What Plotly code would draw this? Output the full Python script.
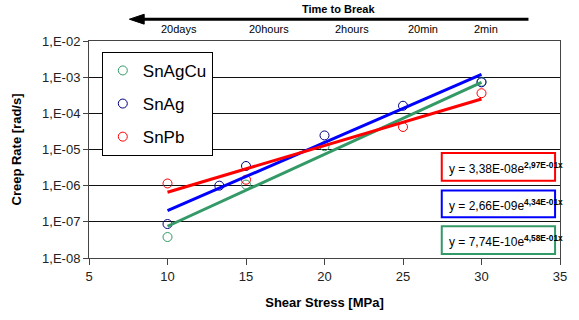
import plotly.graph_objects as go

# ---- data ----
sn_ag_cu_x = [10, 15, 20, 30]
sn_ag_cu_y = [3.8e-8, 1.07e-6, 1.23e-5, 7.5e-4]
sn_ag_x = [10, 13.3, 15, 20, 25, 30]
sn_ag_y = [8.7e-8, 1.0e-6, 3.5e-6, 2.45e-5, 1.62e-4, 7.2e-4]
sn_pb_x = [10, 15, 25, 30]
sn_pb_y = [1.15e-6, 1.46e-6, 4.2e-5, 3.6e-4]

# trendline end points (exponential fits, straight on log axis)
fit_x = [10, 30]
fit_cu_y = [7.55e-8, 7.2e-4]
fit_ag_y = [2.04e-7, 1.2e-3]
fit_pb_y = [6.6e-7, 2.5e-4]

eq_pb = ("3,38E-08", "2,97E-01x")
eq_ag = ("2,66E-09", "4,34E-01x")
eq_cu = ("7,74E-10", "4,58E-01x")

y_tickvals = [1e-8, 1e-7, 1e-6, 1e-5, 1e-4, 1e-3, 1e-2]
y_ticktext = ["1,E-08", "1,E-07", "1,E-06", "1,E-05", "1,E-04", "1,E-03", "1,E-02"]
x_tickvals = [5, 10, 15, 20, 25, 30, 35]

time_labels = ["20days", "20hours", "2hours", "20min", "2min"]
time_label_px = [180, 272, 356, 428, 492]

GREEN = "#339966"
BLUE = "#0000ff"
RED = "#ff0000"

fig = go.Figure()

# markers
fig.add_trace(go.Scatter(x=sn_ag_cu_x, y=sn_ag_cu_y, mode="markers", name="SnAgCu",
                         legendgroup="a",
                         marker=dict(symbol="circle-open", size=9, color=GREEN, line=dict(width=1))))
fig.add_trace(go.Scatter(x=sn_ag_x, y=sn_ag_y, mode="markers", name="SnAg",
                         legendgroup="b",
                         marker=dict(symbol="circle-open", size=9, color="#000080", line=dict(width=1))))
fig.add_trace(go.Scatter(x=sn_pb_x, y=sn_pb_y, mode="markers", name="SnPb",
                         legendgroup="c",
                         marker=dict(symbol="circle-open", size=9, color=RED, line=dict(width=1))))

# trendlines (drawn on top)
for yy, col in [(fit_cu_y, GREEN), (fit_ag_y, BLUE), (fit_pb_y, RED)]:
    fig.add_trace(go.Scatter(x=fit_x, y=yy, mode="lines", showlegend=False, hoverinfo="skip",
                             line=dict(color=col, width=3)))

W, H = 579, 320
L, R, T, B = 89, 12, 41, 60
pw, ph = W - L - R, H - T - B

def px2paper_x(px):
    return (px - L) / pw

def px2paper_y(py):
    return (H - B - py) / ph

annotations = []
shapes = []

# equation boxes
for (c, e), col, y0, y1 in [(eq_pb, RED, 154, 182), (eq_ag, BLUE, 192, 219), (eq_cu, GREEN, 228, 256)]:
    shapes.append(dict(type="rect", xref="paper", yref="paper",
                       x0=px2paper_x(447), x1=px2paper_x(562),
                       y0=px2paper_y(y1), y1=px2paper_y(y0),
                       line=dict(color=col, width=2), fillcolor="white", layer="above"))
    annotations.append(dict(xref="paper", yref="paper", x=px2paper_x(452), y=px2paper_y((y0 + y1) / 2 + 1),
                            xanchor="left", yanchor="middle", showarrow=False,
                            text=f"y = {c}e<sup><b>{e}</b></sup>",
                            font=dict(family="Arial", size=12, color="#000")))

# Time to break arrow (line + head)
shapes.append(dict(type="line", xref="paper", yref="paper",
                   x0=px2paper_x(140), x1=px2paper_x(535), y0=px2paper_y(19), y1=px2paper_y(19),
                   line=dict(color="#000", width=3)))
shapes.append(dict(type="path", xref="paper", yref="paper",
                   path=(f"M {px2paper_x(130)} {px2paper_y(19)} "
                         f"L {px2paper_x(145)} {px2paper_y(14)} "
                         f"L {px2paper_x(145)} {px2paper_y(24)} Z"),
                   fillcolor="#000", line=dict(color="#000", width=1)))
annotations.append(dict(xref="paper", yref="paper", x=px2paper_x(342), y=px2paper_y(9),
                        xanchor="center", yanchor="middle", showarrow=False,
                        text="<b>Time to Break</b>", font=dict(family="Arial", size=11, color="#000")))
for lab, p in zip(time_labels, time_label_px):
    annotations.append(dict(xref="paper", yref="paper", x=px2paper_x(p), y=px2paper_y(29),
                            xanchor="center", yanchor="middle", showarrow=False,
                            text=lab, font=dict(family="Arial", size=11, color="#000")))

fig.update_layout(
    width=W, height=H,
    margin=dict(l=L, r=R, t=T, b=B),
    paper_bgcolor="white", plot_bgcolor="white",
    font=dict(family="Arial", color="#000"),
    showlegend=True,
    legend=dict(x=px2paper_x(102), y=px2paper_y(52), xanchor="left", yanchor="top",
                bgcolor="white", bordercolor="#000", borderwidth=1,
                font=dict(family="Arial", size=17, color="#000"),
                tracegroupgap=8),
    xaxis=dict(range=[5, 35], tickvals=x_tickvals, showgrid=False, zeroline=False,
               showline=True, linecolor="#444", linewidth=1, mirror=True,
               ticks="outside", ticklen=6, tickcolor="#444",
               tickfont=dict(family="Arial", size=13, color="#222"),
               title=dict(text="<b>Shear Stress [MPa]</b>", font=dict(family="Arial Black, Arial", size=13), standoff=15)),
    yaxis=dict(type="log", range=[-8, -2], tickvals=y_tickvals, ticktext=y_ticktext,
               showgrid=True, gridcolor="#111", gridwidth=1, zeroline=False,
               showline=True, linecolor="#444", linewidth=1, mirror=True,
               ticks="outside", ticklen=5, tickcolor="#444",
               tickfont=dict(family="Arial", size=13, color="#222"),
               title=dict(text="<b>Creep Rate [rad/s]</b>", font=dict(family="Arial Black, Arial", size=13), standoff=17)),
    annotations=annotations, shapes=shapes,
)

fig.write_html("out.html")
